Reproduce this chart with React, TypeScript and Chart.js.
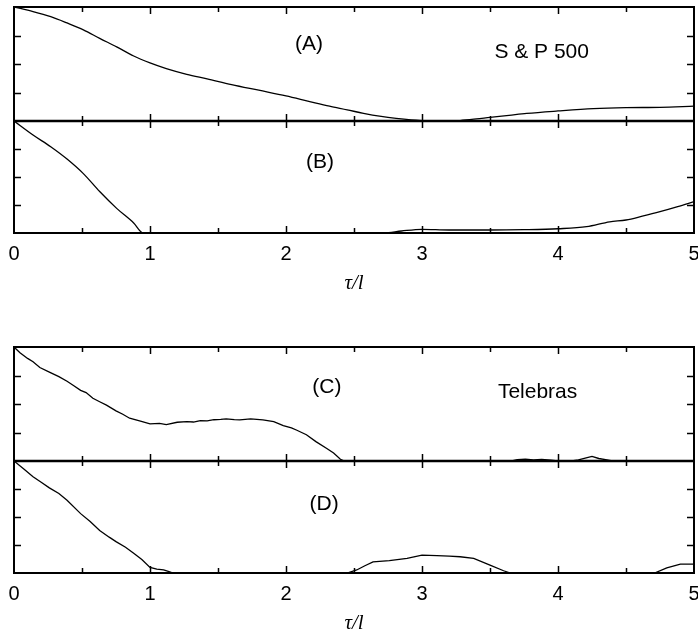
import { useEffect, useRef } from "react";
import { Chart, registerables } from "chart.js";

Chart.register(...registerables);

// x-axis tick labels (τ/l = 0 … 5)
const tickLabels = ["0", "1", "2", "3", "4", "5"];

// S & P 500 — panel (A)
const tauA = [0, 0.14, 0.27, 0.39, 0.51, 0.63, 0.755, 0.88, 1.0, 1.12, 1.27, 1.42, 1.6, 1.8, 2.0, 2.16, 2.32, 2.45, 2.57, 2.7, 2.81, 2.92, 3.0, 3.1, 3.2, 3.28, 3.4, 3.5, 3.64, 3.77, 4.0, 4.26, 4.5, 4.75, 5.0];
const valA = [1.0, 0.96, 0.915, 0.86, 0.8, 0.725, 0.65, 0.57, 0.51, 0.46, 0.41, 0.37, 0.32, 0.27, 0.22, 0.175, 0.13, 0.098, 0.067, 0.04, 0.023, 0.01, 0.004, 0.0, 0.0, 0.004, 0.018, 0.032, 0.05, 0.067, 0.088, 0.108, 0.117, 0.12, 0.13];

// S & P 500 — panel (B)
const tauB = [0, 0.14, 0.27, 0.39, 0.51, 0.63, 0.755, 0.88, 0.95, 1.2, 1.6, 2.0, 2.4, 2.72, 2.85, 3.0, 3.2, 3.5, 3.75, 4.0, 4.21, 4.38, 4.5, 4.62, 4.75, 4.88, 5.0];
const valB = [1.0, 0.875, 0.77, 0.66, 0.53, 0.37, 0.22, 0.09, 0.0, 0.0, 0.0, 0.0, 0.0, 0.0, 0.018, 0.033, 0.027, 0.027, 0.03, 0.038, 0.056, 0.1, 0.116, 0.15, 0.19, 0.235, 0.28];

// Telebras — panel (C)
const tauC = [0, 0.044, 0.1, 0.14, 0.19, 0.26, 0.33, 0.39, 0.44, 0.49, 0.53, 0.58, 0.63, 0.68, 0.75, 0.8, 0.85, 0.93, 1.0, 1.07, 1.12, 1.2, 1.27, 1.32, 1.37, 1.42, 1.47, 1.52, 1.56, 1.62, 1.66, 1.74, 1.83, 1.91, 1.98, 2.04, 2.08, 2.15, 2.22, 2.3, 2.35, 2.4, 2.43, 3.0, 3.66, 3.7, 3.76, 3.82, 3.88, 3.95, 4.0, 4.1, 4.15, 4.2, 4.25, 4.3, 4.36, 4.4, 5.0];
const valC = [1.0, 0.95, 0.9, 0.87, 0.82, 0.78, 0.74, 0.7, 0.66, 0.62, 0.6, 0.55, 0.52, 0.49, 0.44, 0.41, 0.375, 0.35, 0.325, 0.33, 0.32, 0.34, 0.345, 0.342, 0.355, 0.352, 0.362, 0.365, 0.37, 0.363, 0.36, 0.37, 0.36, 0.345, 0.31, 0.29, 0.27, 0.23, 0.17, 0.11, 0.07, 0.015, 0.0, 0.0, 0.0, 0.012, 0.016, 0.01, 0.014, 0.008, 0.0, 0.0, 0.01, 0.025, 0.04, 0.022, 0.01, 0.0, 0.0];

// Telebras — panel (D)
const tauD = [0, 0.07, 0.14, 0.2, 0.26, 0.33, 0.39, 0.49, 0.56, 0.63, 0.7, 0.75, 0.82, 0.88, 0.94, 1.0, 1.05, 1.1, 1.14, 1.17, 2.0, 2.45, 2.52, 2.58, 2.64, 2.76, 2.89, 3.0, 3.11, 3.2, 3.28, 3.38, 3.5, 3.6, 3.65, 4.2, 4.71, 4.8, 4.9, 5.0];
const valD = [1.0, 0.93, 0.86, 0.81, 0.76, 0.71, 0.65, 0.53, 0.46, 0.38, 0.32, 0.28, 0.23, 0.176, 0.12, 0.05, 0.035, 0.027, 0.012, 0.0, 0.0, 0.0, 0.027, 0.065, 0.1, 0.11, 0.13, 0.16, 0.155, 0.15, 0.145, 0.13, 0.07, 0.02, 0.0, 0.0, 0.0, 0.045, 0.08, 0.08];

type Note = { text: string; axis: "yTop" | "yBot"; tau: number; level: number };

const notesUpper: Note[] = [
  { text: "(A)", axis: "yTop", tau: 2.17, level: 0.675 },
  { text: "S & P 500", axis: "yTop", tau: 3.88, level: 0.6 },
  { text: "(B)", axis: "yBot", tau: 2.25, level: 0.63 },
];
const notesLower: Note[] = [
  { text: "(C)", axis: "yTop", tau: 2.3, level: 0.65 },
  { text: "Telebras", axis: "yTop", tau: 3.85, level: 0.6 },
  { text: "(D)", axis: "yBot", tau: 2.28, level: 0.61 },
];

const SANS = "'Liberation Sans', Arial, Helvetica, sans-serif";

const toPoints = (t: number[], v: number[]) => t.map((x, i) => ({ x, y: v[i] }));

// Draws the panel frames, the inward tick marks and the panel captions.
const framePlugin = {
  id: "panelFrame",
  afterDatasetsDraw(chart: any) {
    const ctx = chart.ctx as CanvasRenderingContext2D;
    const xs = chart.scales.x;
    const { left, right } = chart.chartArea;
    ctx.save();
    ctx.strokeStyle = "#000";
    for (const id of ["yTop", "yBot"]) {
      const s = chart.scales[id];
      ctx.lineWidth = 1.5;
      ctx.beginPath();
      for (let t = 0.5; t < 5; t += 0.5) {
        const px = Math.round(xs.getPixelForValue(t)) + 0.5;
        const len = Number.isInteger(t) ? 7 : 5;
        ctx.moveTo(px, s.top);
        ctx.lineTo(px, s.top + len);
        ctx.moveTo(px, s.bottom);
        ctx.lineTo(px, s.bottom - len);
      }
      for (const v of [0.25, 0.5, 0.75]) {
        const py = Math.round(s.getPixelForValue(v)) + 0.5;
        ctx.moveTo(left, py);
        ctx.lineTo(left + 7, py);
        ctx.moveTo(right, py);
        ctx.lineTo(right - 7, py);
      }
      ctx.stroke();
      ctx.lineWidth = 2;
      ctx.strokeRect(left, s.top, right - left, s.bottom - s.top);
    }
    // shared boundary between the two panels is a little heavier
    const mid = chart.scales.yTop.bottom;
    ctx.lineWidth = 2.6;
    ctx.beginPath();
    ctx.moveTo(left, mid);
    ctx.lineTo(right, mid);
    ctx.stroke();
    ctx.restore();
  },
  afterDraw(chart: any) {
    const notes: Note[] = chart.options.plugins.panelFrame.notes;
    const ctx = chart.ctx as CanvasRenderingContext2D;
    ctx.save();
    ctx.fillStyle = "#000";
    ctx.font = `21px ${SANS}`;
    ctx.textAlign = "center";
    ctx.textBaseline = "middle";
    for (const n of notes) {
      ctx.fillText(n.text, chart.scales.x.getPixelForValue(n.tau), chart.scales[n.axis].getPixelForValue(n.level));
    }
    ctx.restore();
  },
};

function makeConfig(top: { x: number; y: number }[], bottom: { x: number; y: number }[], smooth: boolean, notes: Note[]): any {
  const line = (data: { x: number; y: number }[], axis: string) => ({
    data,
    yAxisID: axis,
    borderColor: "#000",
    borderWidth: 1.3,
    pointRadius: 0,
    fill: false,
    tension: smooth ? 0.4 : 0,
    cubicInterpolationMode: smooth ? "monotone" : "default",
  });
  const yAxis = (weight: number) => ({
    type: "linear",
    position: "left",
    stack: "panels",
    stackWeight: weight,
    min: 0,
    max: 1,
    ticks: { display: false },
    grid: { display: false },
    border: { display: false },
    afterFit: (s: any) => {
      s.width = 0;
    },
  });
  return {
    type: "line",
    data: { datasets: [line(top, "yTop"), line(bottom, "yBot")] },
    options: {
      animation: false,
      responsive: false,
      layout: { padding: { left: 14, right: 4, top: 7, bottom: 0 }, autoPadding: false },
      plugins: { legend: { display: false }, tooltip: { enabled: false }, panelFrame: { notes } },
      scales: {
        x: {
          type: "linear",
          min: 0,
          max: 5,
          ticks: {
            stepSize: 1,
            padding: 9,
            color: "#000",
            font: { family: SANS, size: 20 },
            maxRotation: 0,
            callback: (_v: number, i: number) => tickLabels[i],
          },
          grid: { display: false, drawTicks: false },
          border: { display: false },
          title: {
            display: true,
            text: "τ/l",
            color: "#000",
            font: { family: "'Liberation Serif', 'Times New Roman', serif", style: "italic", size: 21 },
            padding: { top: 0, bottom: 0 },
          },
          afterFit: (s: any) => {
            s.height = 63;
            s.paddingLeft = 0;
            s.paddingRight = 0;
          },
        },
        // the later-listed left axis is stacked on top
        yBot: yAxis(112),
        yTop: yAxis(114),
      },
    },
    plugins: [framePlugin],
  };
}

function Panel({ top, cfg }: { top: number; cfg: () => any }) {
  const ref = useRef<HTMLCanvasElement>(null);
  useEffect(() => {
    const chart = new Chart(ref.current as HTMLCanvasElement, cfg());
    return () => chart.destroy();
  }, []);
  return <canvas ref={ref} width={698} height={296} style={{ position: "absolute", left: 0, top, display: "block" }} />;
}

export default function App() {
  return (
    <div style={{ position: "absolute", left: 0, top: 0, width: 698, height: 636, background: "#fff" }}>
      <Panel top={0} cfg={() => makeConfig(toPoints(tauA, valA), toPoints(tauB, valB), true, notesUpper)} />
      <Panel top={340} cfg={() => makeConfig(toPoints(tauC, valC), toPoints(tauD, valD), false, notesLower)} />
    </div>
  );
}
